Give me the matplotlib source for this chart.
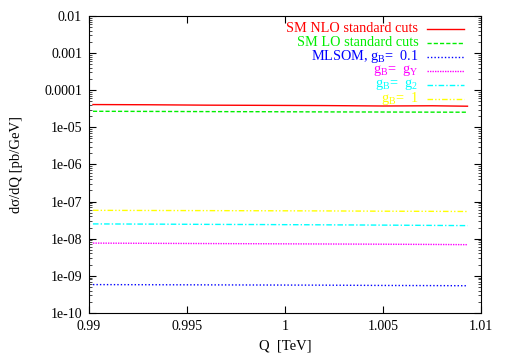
import numpy as np
import matplotlib
matplotlib.use("Agg")
import matplotlib.pyplot as plt
from matplotlib.ticker import FixedLocator, FixedFormatter, LogLocator, NullFormatter

plt.rcParams['font.family'] = ['Liberation Serif', 'DejaVu Serif']
plt.rcParams['mathtext.fontset'] = 'custom'
plt.rcParams['mathtext.rm'] = 'Liberation Serif'

# Q values (TeV) and curves
q = [0.9902, 0.993, 0.996, 0.999, 1.002, 1.005, 1.0075, 1.0093]
sm_nlo = [4.1e-5, 4.05e-5, 3.95e-5, 3.9e-5, 3.85e-5, 3.75e-5, 3.8e-5, 3.7e-5]
sm_lo = [2.7e-5, 2.68e-5, 2.65e-5, 2.63e-5, 2.6e-5, 2.58e-5, 2.56e-5, 2.55e-5]
gb_01 = [5.8e-10, 5.75e-10, 5.7e-10, 5.65e-10, 5.6e-10, 5.5e-10, 5.45e-10, 5.4e-10]
gb_gy = [7.6e-9, 7.5e-9, 7.4e-9, 7.3e-9, 7.2e-9, 7.1e-9, 7.0e-9, 6.9e-9]
gb_g2 = [2.5e-8, 2.47e-8, 2.43e-8, 2.4e-8, 2.36e-8, 2.32e-8, 2.28e-8, 2.25e-8]
gb_1 = [5.8e-8, 5.75e-8, 5.7e-8, 5.65e-8, 5.6e-8, 5.5e-8, 5.45e-8, 5.4e-8]

x_ticks = [0.99, 0.995, 1.0, 1.005, 1.01]
x_labels = ['0.99', '0.995', '1', '1.005', '1.01']
y_ticks = [1e-10, 1e-9, 1e-8, 1e-7, 1e-6, 1e-5, 1e-4, 1e-3, 1e-2]
y_labels = ['1e-10', '1e-09', '1e-08', '1e-07', '1e-06', '1e-05', '0.0001', '0.001', '0.01']

series = [
    (sm_nlo, 'SM NLO standard cuts', '#ff0000', '-'),
    (sm_lo, 'SM LO standard cuts', '#00ee00', (0, (3, 1.5))),
    (gb_01, r'MLSOM, g$_\mathrm{B}$=  0.1', '#0000ff', (0, (1, 1.5))),
    (gb_gy, r'g$_\mathrm{B}$=  g$_\mathrm{Y}$', '#ff00ff', (0, (1, 0.8))),
    (gb_g2, r'g$_\mathrm{B}$=  g$_2$', '#00ffff', (0, (4, 1.5, 1, 1.5))),
    (gb_1, r'g$_\mathrm{B}$=  1', '#ffff00', (0, (4, 1.5, 1, 1.5, 1, 1.5))),
]

fig = plt.figure(figsize=(5.06, 3.54), dpi=100)
ax = fig.add_axes([0.176, 0.116, 0.775, 0.839])

for vals, lab, col, ls in series:
    ax.plot(q, vals, color=col, ls=ls, lw=1.0)

ax.set_yscale('log')
ax.set_xlim(0.99, 1.01)
ax.set_ylim(1e-10, 1e-2)
ax.xaxis.set_major_locator(FixedLocator(x_ticks))
ax.xaxis.set_major_formatter(FixedFormatter(x_labels))
ax.yaxis.set_major_locator(FixedLocator(y_ticks))
ax.yaxis.set_major_formatter(FixedFormatter(y_labels))
ax.yaxis.set_minor_locator(LogLocator(base=10, subs=[2, 3, 4, 5, 6, 7, 8, 9], numticks=20))
ax.yaxis.set_minor_formatter(NullFormatter())
ax.tick_params(which='both', direction='in', top=True, right=True, labelsize=10, pad=5)
ax.tick_params(which='major', length=5, width=0.8)
ax.tick_params(which='minor', length=2.5, width=0.5)
for s in ax.spines.values():
    s.set_linewidth(0.8)

ax.set_xlabel('Q  [TeV]', fontsize=10.5, labelpad=5)
ax.set_ylabel('dσ/dQ [pb/GeV]', fontsize=10.5, labelpad=15)

# gnuplot-style key: right-aligned text with sample line to its right
y0 = 0.957
dy = 0.0472
for i, (vals, lab, col, ls) in enumerate(series):
    yy = y0 - i * dy
    ax.text(0.84, yy, lab, transform=ax.transAxes, ha='right', va='center',
            color=col, fontsize=10.3)
    ax.plot([0.862, 0.957], [yy, yy], transform=ax.transAxes, color=col, ls=ls, lw=1.0)

fig.savefig('out.png', dpi=100)
